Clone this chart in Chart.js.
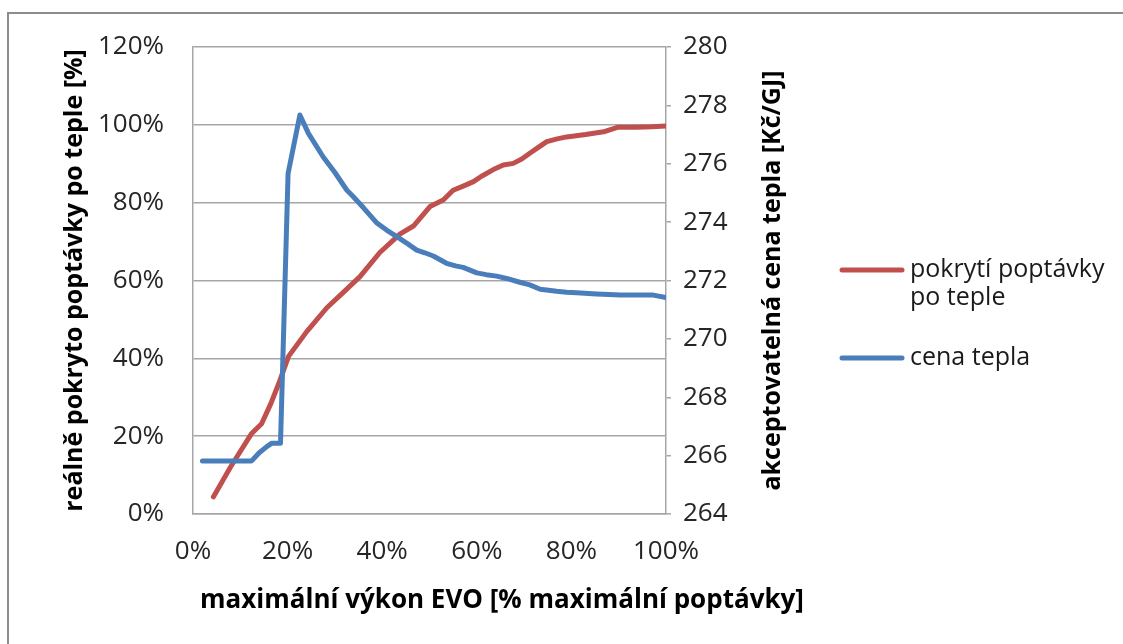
<!DOCTYPE html>
<html>
<head>
<meta charset="utf-8">
<title>Pokrytí poptávky po teple</title>
<script src="https://cdn.jsdelivr.net/npm/chart.js@4.4.1/dist/chart.umd.min.js"></script>
<style>
  html, body { margin: 0; padding: 0; background: #fff; }
  #wrap { position: relative; width: 1123px; height: 644px; overflow: hidden; }
  #frame {
    position: absolute; left: 7px; top: 12px; right: -4px; bottom: -4px;
    border-top: 2px solid #8c8c8c; border-left: 2px solid #8c8c8c;
    pointer-events: none;
  }
</style>
</head>
<body>
<div id="wrap">
  <canvas id="chart" width="1123" height="644"></canvas>
  <div id="frame"></div>
</div>
<script>
// max. výkon EVO [% max. poptávky] -> pokrytí poptávky [%]
const coverX = [4.3, 8, 12.4, 14.5, 16.5, 18.4, 20.2, 24, 28.3, 32,
  35.3, 39.5, 43.8, 46.6, 50.1, 52.9, 55, 57, 59.3, 61,
  63.5, 65.6, 67.7, 69.5, 71.2, 73, 74.8, 77, 79, 83,
  86.8, 89.9, 93.8, 97, 100];
const coverPct = [4.4, 12.2, 20.7, 23.2, 28.5, 34.4, 40.5, 46.8, 53, 57.2,
  61, 67.2, 72, 74, 79, 80.7, 83.2, 84.2, 85.4, 86.8,
  88.5, 89.7, 90.1, 91.2, 92.7, 94.2, 95.7, 96.4, 96.9, 97.5,
  98.2, 99.4, 99.4, 99.5, 99.7];

// max. výkon EVO -> akceptovatelná cena tepla [Kč/GJ]
const priceX = [2, 12.4, 14, 15.6, 16.6, 18.5, 20.1, 22.6, 24.4, 27.5,
  30, 32.5, 33.9, 36, 38.8, 41, 43.1, 45, 47.3, 49,
  50.8, 53.6, 55.5, 57.1, 60, 62, 64.2, 66.3, 69.1, 71.2,
  73.4, 76.9, 79, 81.1, 85.3, 88, 90.3, 97.3, 100];
const priceCzk = [265.82, 265.82, 266.1, 266.31, 266.42, 266.42, 275.67, 277.67, 277.04, 276.24,
  275.7, 275.1, 274.87, 274.5, 273.98, 273.72, 273.5, 273.3, 273.04, 272.95,
  272.84, 272.59, 272.5, 272.45, 272.26, 272.2, 272.15, 272.07, 271.94, 271.85,
  271.7, 271.63, 271.6, 271.58, 271.54, 271.52, 271.5, 271.5, 271.42];

const seriesNames = ['pokrytí poptávky po teple', 'cena tepla'];
const legendLines = [['pokrytí poptávky', 'po teple'], ['cena tepla']];
const seriesColors = ['#c0504d', '#4a7ebb'];

const xTitle = 'maximální výkon EVO [% maximální poptávky]';
const coverTitle = 'reálně pokryto poptávky po teple [%]';
const priceTitle = 'akceptovatelná cena tepla [Kč/GJ]';

const pctTicks = [0, 20, 40, 60, 80, 100, 120];
const priceTicks = [264, 266, 268, 270, 272, 274, 276, 278, 280];

const gridColor = '#a6a6a6';
const tickFont = { family: '"Open Sans", sans-serif', size: 26 };
const yTitleFont = { family: '"Open Sans", sans-serif', size: 25, weight: 'bold' };

Chart.defaults.font.family = '"Open Sans", sans-serif';
Chart.defaults.color = '#262626';

function toPoints(xs, ys) {
  return xs.map((x, i) => ({ x: x, y: ys[i] }));
}

// x title (wider than the plot, so drawn here unclipped), right axis title
// (reads bottom-to-top like the left one) and the legend
const sideTexts = {
  id: 'sideTexts',
  afterDraw(chart) {
    const ctx = chart.ctx;
    const area = chart.chartArea;
    const yR = chart.scales.yPrice;

    ctx.save();
    ctx.fillStyle = '#000';
    ctx.textAlign = 'center';
    ctx.textBaseline = 'middle';
    ctx.font = 'bold 26px "Open Sans"';
    ctx.fillText(xTitle, 502, 601);
    ctx.font = 'bold 25px "Open Sans"';
    ctx.translate(yR.right - 27, (area.top + area.bottom) / 2);
    ctx.rotate(-Math.PI / 2);
    ctx.fillText(priceTitle, 0, 0);
    ctx.restore();

    const rows = [270, 358];
    ctx.save();
    ctx.font = '25px "Open Sans"';
    ctx.textAlign = 'left';
    ctx.textBaseline = 'middle';
    ctx.lineCap = 'round';
    ctx.lineWidth = 5;
    legendLines.forEach((lines, i) => {
      const y = rows[i];
      ctx.strokeStyle = seriesColors[i];
      ctx.beginPath();
      ctx.moveTo(842, y);
      ctx.lineTo(902, y);
      ctx.stroke();
      ctx.fillStyle = '#1a1a1a';
      lines.forEach((t, k) => ctx.fillText(t, 910, y + k * 28));
    });
    ctx.restore();
  }
};

new Chart(document.getElementById('chart'), {
  type: 'scatter',
  data: {
    datasets: [
      {
        label: seriesNames[0],
        data: toPoints(coverX, coverPct),
        yAxisID: 'yCover',
        showLine: true,
        borderColor: seriesColors[0],
        backgroundColor: seriesColors[0],
        borderWidth: 5,
        borderCapStyle: 'round',
        borderJoinStyle: 'round',
        pointRadius: 0,
        tension: 0,
        order: 2
      },
      {
        label: seriesNames[1],
        data: toPoints(priceX, priceCzk),
        yAxisID: 'yPrice',
        showLine: true,
        borderColor: seriesColors[1],
        backgroundColor: seriesColors[1],
        borderWidth: 5,
        borderCapStyle: 'round',
        borderJoinStyle: 'round',
        pointRadius: 0,
        tension: 0,
        order: 1
      }
    ]
  },
  options: {
    responsive: false,
    animation: false,
    layout: { padding: { top: 47, right: 323, bottom: 0, left: 0 } },
    plugins: {
      legend: { display: false },
      tooltip: { enabled: false }
    },
    scales: {
      x: {
        type: 'linear',
        min: 0,
        max: 100,
        ticks: {
          stepSize: 20,
          padding: 22,
          font: tickFont,
          callback: v => v + '%'
        },
        grid: { display: false, drawTicks: false },
        border: { display: true, color: gridColor, width: 1.5 },
        afterFit: s => { s.height = 130; }
      },
      yCover: {
        type: 'linear',
        position: 'left',
        min: 0,
        max: 120,
        afterBuildTicks: s => { s.ticks = pctTicks.map(v => ({ value: v })); },
        ticks: {
          padding: 29,
          font: tickFont,
          callback: v => v + '%'
        },
        grid: { color: gridColor, lineWidth: 1.5, drawTicks: false },
        border: { display: true, color: gridColor, width: 1.5 },
        title: {
          display: true,
          text: coverTitle,
          color: '#000',
          font: yTitleFont,
          padding: { top: 60, bottom: 0 }
        },
        afterFit: s => { s.width = 193; }
      },
      yPrice: {
        type: 'linear',
        position: 'right',
        min: 264,
        max: 280,
        afterBuildTicks: s => { s.ticks = priceTicks.map(v => ({ value: v })); },
        ticks: {
          padding: 12,
          font: tickFont
        },
        grid: { drawOnChartArea: false, color: gridColor, lineWidth: 1.5, tickLength: 5 },
        border: { display: true, color: gridColor, width: 1.5 },
        afterFit: s => { s.width = 134; }
      }
    }
  },
  plugins: [sideTexts]
});
</script>
</body>
</html>
